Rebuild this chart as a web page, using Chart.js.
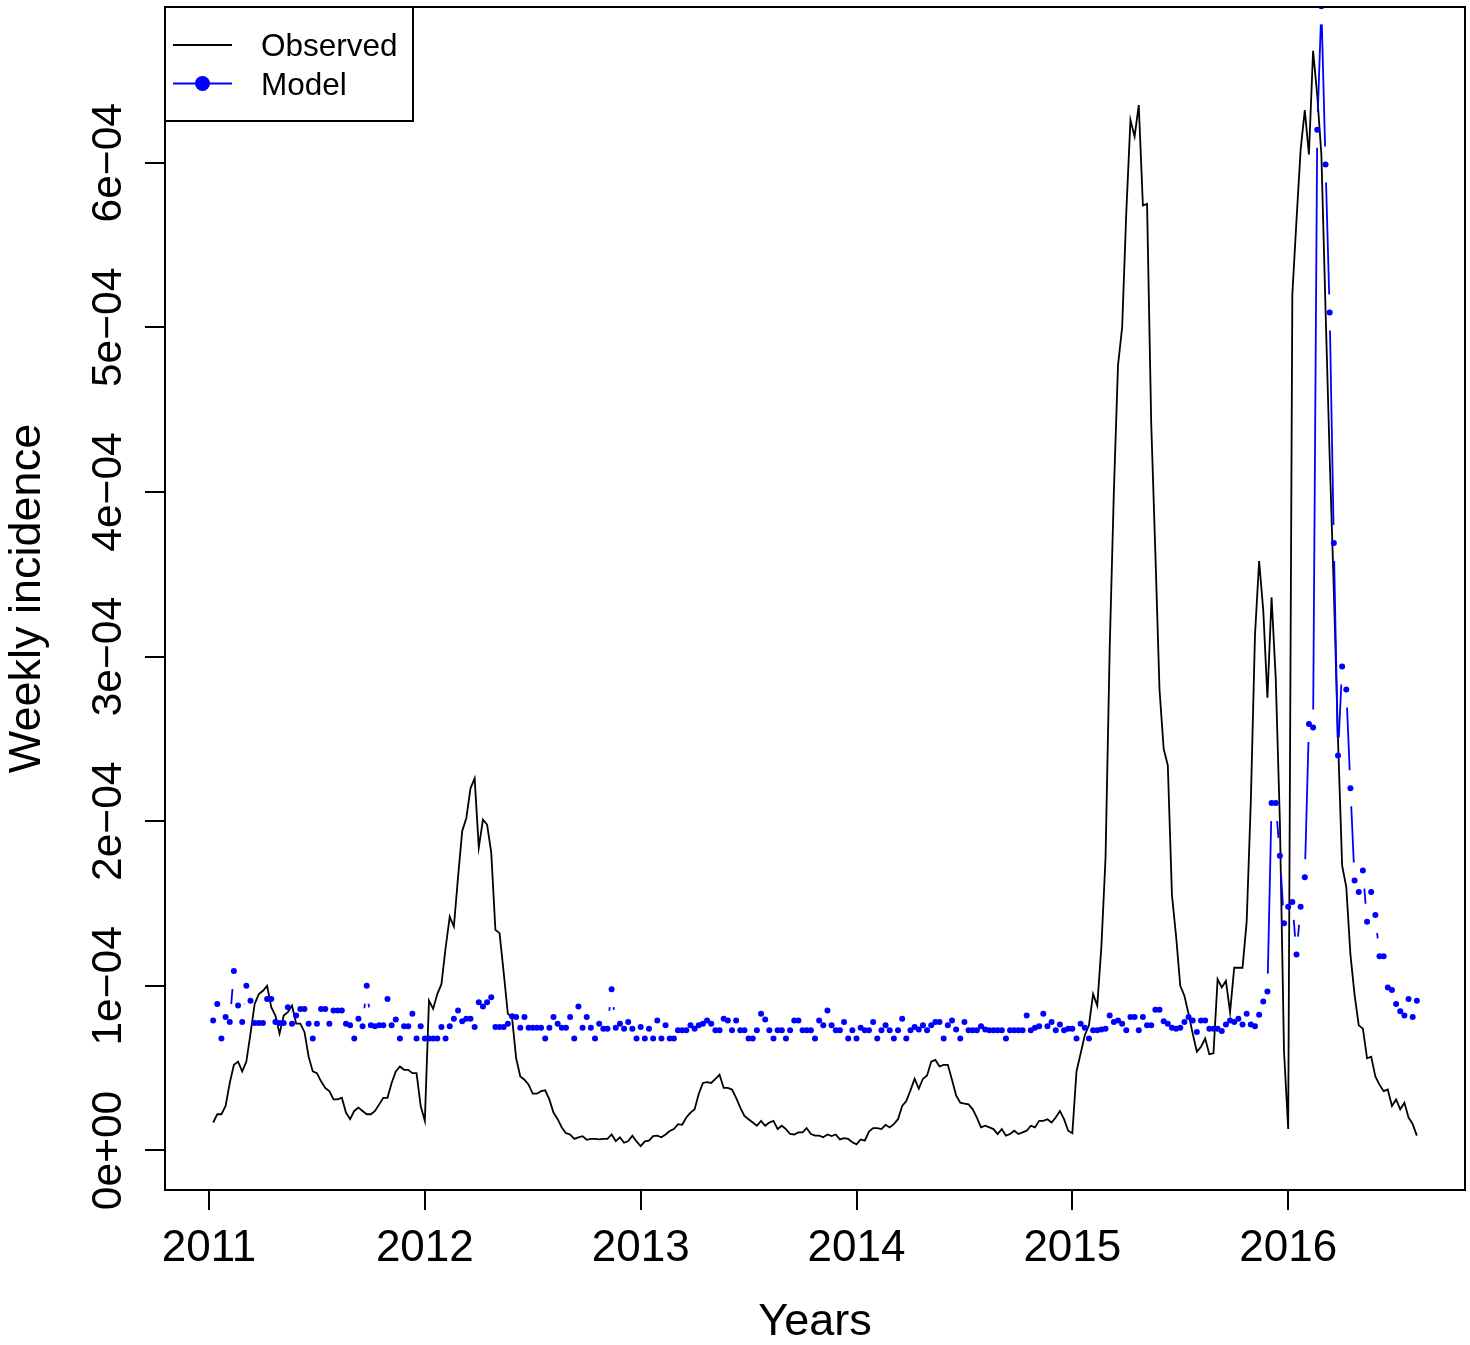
<!DOCTYPE html>
<html>
<head>
<meta charset="utf-8">
<script src="https://cdn.jsdelivr.net/npm/chart.js@4/dist/chart.umd.min.js"></script>
<style>
html,body{margin:0;padding:0;background:#ffffff;}
canvas{display:block;}
</style>
</head>
<body>
<canvas id="c" width="1470" height="1345"></canvas>
<script>
// Weekly incidence, in units of 1e-4, one value per week starting at week 1 of 2011
const observed = [
0.17,0.22,0.22,0.27,0.41,0.52,0.54,0.48,0.54,0.71,
0.89,0.95,0.97,1.00,0.87,0.82,0.71,0.82,0.84,0.88,
0.77,0.77,0.72,0.57,0.48,0.47,0.42,0.38,0.36,0.31,
0.31,0.32,0.23,0.19,0.24,0.26,0.24,0.22,0.22,0.24,
0.28,0.32,0.32,0.41,0.48,0.51,0.49,0.49,0.47,0.47,
0.27,0.18,0.91,0.86,0.95,1.01,1.23,1.42,1.36,1.66,
1.94,2.02,2.20,2.26,1.84,2.01,1.98,1.81,1.34,1.32,
1.08,0.83,0.81,0.56,0.45,0.43,0.40,0.345,0.345,0.36,
0.365,0.31,0.23,0.19,0.14,0.105,0.097,0.07,0.08,0.087,
0.065,0.07,0.07,0.067,0.07,0.07,0.097,0.057,0.08,0.047,
0.057,0.09,0.055,0.026,0.055,0.06,0.087,0.09,0.08,0.097,
0.118,0.13,0.16,0.156,0.20,0.23,0.25,0.345,0.41,0.415,
0.41,0.435,0.46,0.38,0.38,0.37,0.32,0.26,0.21,0.19,
0.17,0.15,0.18,0.15,0.17,0.18,0.13,0.15,0.13,0.10,
0.097,0.11,0.11,0.136,0.10,0.09,0.09,0.08,0.097,0.087,
0.097,0.067,0.075,0.07,0.05,0.037,0.067,0.06,0.115,0.136,
0.136,0.13,0.156,0.14,0.16,0.19,0.27,0.30,0.365,0.436,
0.375,0.436,0.456,0.54,0.55,0.51,0.52,0.52,0.43,0.335,
0.29,0.284,0.28,0.25,0.20,0.14,0.15,0.14,0.13,0.10,
0.13,0.09,0.10,0.12,0.10,0.11,0.12,0.15,0.14,0.18,
0.18,0.19,0.17,0.20,0.24,0.19,0.12,0.105,0.48,0.59,
0.70,0.76,0.95,0.88,1.24,1.78,3.05,4.00,4.77,5.00,
5.70,6.26,6.16,6.35,5.74,5.75,4.42,3.63,2.80,2.44,
2.34,1.55,1.30,1.00,0.94,0.83,0.71,0.60,0.63,0.68,
0.585,0.59,1.04,0.99,1.03,0.84,1.11,1.11,1.11,1.39,
2.12,3.13,3.58,3.28,2.75,3.36,2.87,2.00,0.60,0.13,
5.20,5.65,6.08,6.32,6.05,6.68,6.41,6.05,5.11,4.21,
3.40,2.50,1.73,1.60,1.19,0.945,0.76,0.74,0.56,0.57,
0.45,0.40,0.36,0.37,0.27,0.31,0.25,0.29,0.20,0.16,0.09
];
const model = [
0.79,0.89,0.68,0.81,0.78,1.09,0.88,0.78,1.00,0.91,
0.775,0.775,0.775,0.92,0.92,0.78,0.775,0.775,0.87,0.77,
0.82,0.86,0.86,0.77,0.68,0.77,0.86,0.86,0.77,0.85,
0.85,0.85,0.77,0.76,0.68,0.80,0.755,1.00,0.76,0.755,
0.76,0.76,0.92,0.76,0.795,0.68,0.755,0.755,0.83,0.68,
0.755,0.68,0.68,0.68,0.68,0.75,0.68,0.755,0.80,0.85,
0.785,0.80,0.80,0.75,0.90,0.875,0.90,0.93,0.75,0.75,
0.75,0.77,0.815,0.81,0.745,0.81,0.745,0.745,0.745,0.745,
0.68,0.745,0.81,0.77,0.745,0.745,0.81,0.68,0.875,0.745,
0.81,0.745,0.68,0.77,0.74,0.74,0.98,0.745,0.77,0.74,
0.78,0.74,0.68,0.75,0.68,0.74,0.68,0.79,0.68,0.76,
0.68,0.68,0.73,0.73,0.73,0.76,0.74,0.76,0.77,0.79,
0.77,0.73,0.73,0.80,0.79,0.73,0.79,0.73,0.73,0.68,
0.68,0.73,0.83,0.795,0.73,0.68,0.73,0.73,0.68,0.73,
0.79,0.79,0.73,0.73,0.73,0.68,0.79,0.76,0.85,0.76,
0.73,0.73,0.78,0.68,0.73,0.68,0.745,0.73,0.73,0.78,
0.68,0.73,0.76,0.73,0.68,0.73,0.80,0.68,0.73,0.75,
0.735,0.76,0.73,0.76,0.78,0.78,0.68,0.76,0.79,0.735,
0.68,0.78,0.73,0.73,0.73,0.755,0.735,0.73,0.73,0.73,
0.73,0.68,0.73,0.73,0.73,0.73,0.82,0.73,0.745,0.755,
0.83,0.755,0.78,0.73,0.765,0.73,0.74,0.74,0.68,0.77,
0.745,0.68,0.73,0.73,0.735,0.74,0.82,0.78,0.79,0.77,
0.73,0.81,0.81,0.73,0.81,0.76,0.76,0.855,0.855,0.785,
0.77,0.745,0.74,0.745,0.78,0.81,0.79,0.72,0.79,0.79,
0.74,0.74,0.74,0.725,0.765,0.79,0.78,0.80,0.765,0.83,
0.765,0.755,0.825,0.905,0.965,2.11,2.11,1.79,1.38,1.48,
1.51,1.19,1.48,1.66,2.59,2.57,6.20,6.95,5.99,5.09,
3.69,2.40,2.94,2.80,2.20,1.64,1.57,1.70,1.39,1.57,
1.43,1.18,1.18,0.99,0.975,0.89,0.845,0.82,0.92,0.81,0.91
];
const valueUnit = 1e-4;
const startYear = 2011;
const weeksPerYear = 52;
const yearTicks = [2011, 2012, 2013, 2014, 2015, 2016];
const yTickValues = [0, 1, 2, 3, 4, 5, 6];
const yTickLabels = ['0e+00', '1e\u221204', '2e\u221204', '3e\u221204', '4e\u221204', '5e\u221204', '6e\u221204'];
const seriesNames = ['Observed', 'Model'];
const xTitle = 'Years';
const yTitle = 'Weekly incidence';

const FONT = "'Liberation Sans', Arial, Helvetica, sans-serif";
const BLUE = '#0000ff';
const BLACK = '#000000';

const weekX = i => startYear + (i + 1) / weeksPerYear;
const obsData = observed.map((v, i) => ({ x: weekX(i), y: v * valueUnit }));
const modData = model.map((v, i) => ({ x: weekX(i), y: v * valueUnit }));

// R-like axis extents (4% padding around data range)
const xMinData = weekX(0), xMaxData = weekX(observed.length - 1);
const xPad = (xMaxData - xMinData) * 0.04;
const yMinData = Math.min(...observed) * valueUnit, yMaxData = Math.max(...observed) * valueUnit;
const yPad = (yMaxData - yMinData) * 0.04;

const GAP = 18;
const gapLines = {
  id: 'gapLines',
  afterDatasetsDraw(chart) {
    const pts = chart.getDatasetMeta(1).data;
    const a = chart.chartArea;
    const ctx = chart.ctx;
    ctx.save();
    ctx.beginPath();
    ctx.rect(a.left, a.top, a.right - a.left, a.bottom - a.top);
    ctx.clip();
    ctx.strokeStyle = BLUE;
    ctx.lineWidth = 1.8;
    ctx.beginPath();
    for (let i = 0; i < pts.length - 1; i++) {
      const p = pts[i], q = pts[i + 1];
      const dx = q.x - p.x, dy = q.y - p.y;
      const d = Math.hypot(dx, dy);
      if (d > 2 * GAP) {
        const ux = dx / d, uy = dy / d;
        ctx.moveTo(p.x + ux * GAP, p.y + uy * GAP);
        ctx.lineTo(q.x - ux * GAP, q.y - uy * GAP);
      }
    }
    ctx.stroke();
    ctx.restore();
  }
};

const decorations = {
  id: 'decorations',
  afterDraw(chart) {
    const ctx = chart.ctx;
    const a = chart.chartArea;
    const ys = chart.scales.y;
    ctx.save();
    // plot box
    ctx.strokeStyle = BLACK;
    ctx.lineWidth = 2;
    ctx.strokeRect(a.left, a.top, a.right - a.left, a.bottom - a.top);
    // rotated y tick labels
    ctx.fillStyle = BLACK;
    ctx.font = '42.5px ' + FONT;
    ctx.textAlign = 'center';
    ctx.textBaseline = 'alphabetic';
    yTickValues.forEach((v, i) => {
      const py = ys.getPixelForValue(v * valueUnit);
      ctx.save();
      ctx.translate(120.5, py);
      ctx.rotate(-Math.PI / 2);
      ctx.fillText(yTickLabels[i], 0, 0);
      ctx.restore();
    });
    // legend
    const lx = a.left, ly = a.top, lw = 248, lh = 114;
    ctx.fillStyle = '#ffffff';
    ctx.fillRect(lx, ly, lw, lh);
    ctx.strokeStyle = BLACK;
    ctx.lineWidth = 2;
    ctx.strokeRect(lx, ly, lw, lh);
    const rows = [ly + 38, ly + 76.5];
    ctx.lineWidth = 1.8;
    ctx.strokeStyle = BLACK;
    ctx.beginPath();
    ctx.moveTo(lx + 8, rows[0]); ctx.lineTo(lx + 67, rows[0]);
    ctx.stroke();
    ctx.strokeStyle = BLUE;
    ctx.beginPath();
    ctx.moveTo(lx + 8, rows[1]); ctx.lineTo(lx + 67, rows[1]);
    ctx.stroke();
    ctx.fillStyle = BLUE;
    ctx.beginPath();
    ctx.arc(lx + 37.5, rows[1], 7.5, 0, Math.PI * 2);
    ctx.fill();
    ctx.fillStyle = BLACK;
    ctx.font = '31.5px ' + FONT;
    ctx.textAlign = 'left';
    ctx.textBaseline = 'alphabetic';
    ctx.fillText(seriesNames[0], lx + 96, rows[0] + 11);
    ctx.fillText(seriesNames[1], lx + 96, rows[1] + 11);
    ctx.restore();
  }
};

new Chart(document.getElementById('c'), {
  type: 'line',
  data: {
    datasets: [
      {
        label: seriesNames[0],
        data: obsData,
        borderColor: BLACK,
        borderWidth: 1.8,
        pointRadius: 0,
        tension: 0,
        fill: false,
        order: 1
      },
      {
        label: seriesNames[1],
        data: modData,
        showLine: false,
        pointRadius: 3,
        pointBorderWidth: 0,
        pointBackgroundColor: BLUE,
        pointBorderColor: BLUE,
        order: 0
      }
    ]
  },
  options: {
    responsive: false,
    devicePixelRatio: 1,
    animation: false,
    events: [],
    layout: { padding: { left: 0, right: 5, top: 7, bottom: 0 } },
    plugins: {
      legend: { display: false },
      tooltip: { enabled: false },
      title: { display: false }
    },
    scales: {
      x: {
        type: 'linear',
        position: 'bottom',
        min: xMinData - xPad,
        max: xMaxData + xPad,
        afterBuildTicks: s => { s.ticks = yearTicks.map(v => ({ value: v })); },
        afterFit: s => { s.height = 155; },
        ticks: {
          callback: v => String(v),
          font: { family: FONT, size: 44 },
          color: BLACK,
          padding: 12,
          maxRotation: 0,
          minRotation: 0,
          autoSkip: false
        },
        grid: { drawOnChartArea: false, drawTicks: true, tickLength: 20, lineWidth: 2, color: BLACK },
        border: { display: true, color: BLACK, width: 2 },
        title: { display: true, text: xTitle, font: { family: FONT, size: 45 }, color: BLACK, padding: { top: 0, bottom: -5 } }
      },
      y: {
        type: 'linear',
        position: 'left',
        min: yMinData - yPad,
        max: yMaxData + yPad,
        afterBuildTicks: s => { s.ticks = yTickValues.map(v => ({ value: v * valueUnit })); },
        afterFit: s => { s.width = 165; },
        ticks: { display: false },
        grid: { drawOnChartArea: false, drawTicks: true, tickLength: 20, lineWidth: 2, color: BLACK },
        border: { display: true, color: BLACK, width: 2 },
        title: { display: true, text: yTitle, font: { family: FONT, size: 45 }, color: BLACK, padding: { top: 1, bottom: 0 } }
      }
    }
  },
  plugins: [gapLines, decorations]
});
</script>
</body>
</html>
